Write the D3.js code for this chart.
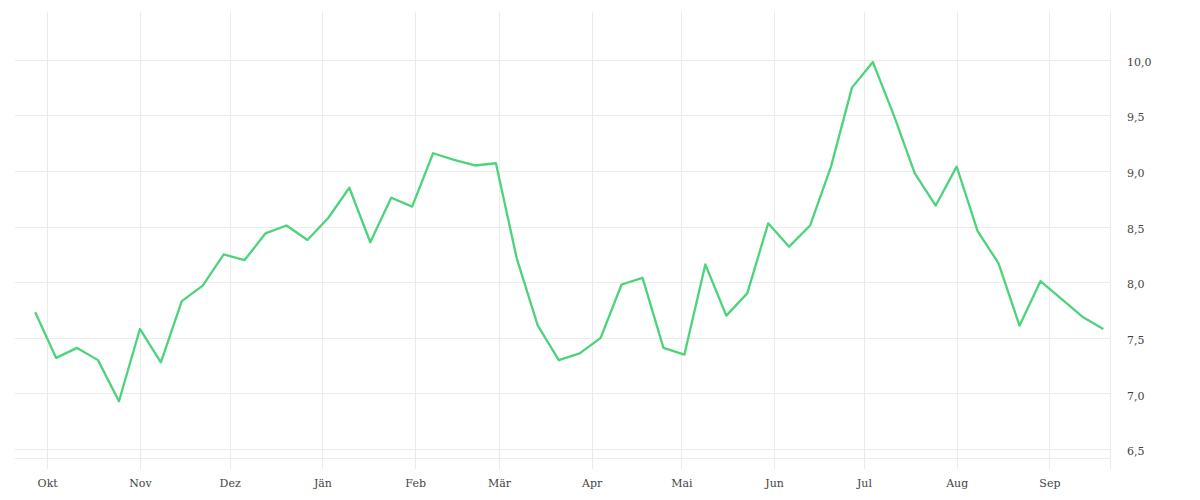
<!DOCTYPE html>
<html lang="de">
<head>
  <meta charset="utf-8">
  <title>Wochenwerte</title>
  <script src="https://d3js.org/d3.v7.min.js"></script>
  <style>
    body { margin: 0; background: #fff; }
    .grid line { stroke: #ebebeb; stroke-width: 1; shape-rendering: crispEdges; }
    .grid path { display: none; }
    .labels text { font: 11px "DejaVu Serif", serif; fill: #444; }
    .labels path, .labels line { display: none; }
  </style>
</head>
<body>
  <div id="chart"></div>

  <script>
    "use strict"
    // Wochenwerte, jeweils Donnerstag
    var wochen = [
      "2018-09-27","2018-10-04","2018-10-11","2018-10-18","2018-10-25",
      "2018-11-01","2018-11-08","2018-11-15","2018-11-22","2018-11-29",
      "2018-12-06","2018-12-13","2018-12-20","2018-12-27",
      "2019-01-03","2019-01-10","2019-01-17","2019-01-24","2019-01-31",
      "2019-02-07","2019-02-14","2019-02-21","2019-02-28",
      "2019-03-07","2019-03-14","2019-03-21","2019-03-28",
      "2019-04-04","2019-04-11","2019-04-18","2019-04-25",
      "2019-05-02","2019-05-09","2019-05-16","2019-05-23","2019-05-30",
      "2019-06-06","2019-06-13","2019-06-20","2019-06-27",
      "2019-07-04","2019-07-11","2019-07-18","2019-07-25",
      "2019-08-01","2019-08-08","2019-08-15","2019-08-22","2019-08-29",
      "2019-09-05","2019-09-12","2019-09-19"
    ];
    var werte = [
      7.73, 7.32, 7.41, 7.30, 6.93,
      7.58, 7.28, 7.83, 7.97, 8.25,
      8.20, 8.44, 8.51, 8.38,
      8.58, 8.85, 8.36, 8.76, 8.68,
      9.16, 9.10, 9.05, 9.07,
      8.21, 7.61, 7.30, 7.36,
      7.50, 7.98, 8.04, 7.41,
      7.35, 8.16, 7.70, 7.90, 8.53,
      8.32, 8.51, 9.04, 9.75,
      9.98, 9.50, 8.98, 8.69,
      9.04, 8.46, 8.17, 7.61, 8.01,
      7.85, 7.69, 7.58
    ];
    var monate = ["Jän","Feb","Mär","Apr","Mai","Jun","Jul","Aug","Sep","Okt","Nov","Dez"];
    var yTicks = [6.5, 7.0, 7.5, 8.0, 8.5, 9.0, 9.5, 10.0];

    var larguraSVG = 1200, alturaSVG = 500;
    var links = 15, rechts = 1110, oben = 12, unten = 458, tickUnten = 469;

    var parse = d3.timeParse("%Y-%m-%d");
    var dados = wochen.map((w, i) => ({datum: parse(w), wert: werte[i]}));

    var svg = d3.select("#chart").append("svg")
      .attr("width", larguraSVG)
      .attr("height", alturaSVG);

    var x = d3.scaleTime()
      .domain([new Date(2018, 8, 20, 6), new Date(2019, 8, 21, 6)])
      .range([links, rechts]);
    var y = d3.scaleLinear()
      .domain([6.42, 10.43])
      .range([unten, oben]);

    var de = d3.formatLocale({decimal: ",", thousands: ".", grouping: [3], currency: ["", " €"]});
    var fmt = de.format(".1f");

    // horizontale Gitterlinien
    svg.append("g")
      .attr("class", "grid")
      .attr("transform", "translate(" + rechts + ",0)")
      .call(d3.axisLeft(y).tickValues(yTicks.concat([y.domain()[0]])).tickSize(rechts - links).tickFormat(""));

    // vertikale Monatslinien + Beschriftung
    var xAxis = d3.axisBottom(x)
      .ticks(d3.timeMonth.every(1))
      .tickSize(-(tickUnten - oben))
      .tickSizeOuter(0)
      .tickPadding(10)
      .tickFormat(d => monate[d.getMonth()]);
    var gx = svg.append("g")
      .attr("class", "grid labels")
      .attr("transform", "translate(0," + tickUnten + ")")
      .call(xAxis);
    gx.selectAll("line").style("display", "inline");

    // rechte Begrenzung
    svg.append("line")
      .attr("x1", x.range()[1]).attr("x2", x.range()[1])
      .attr("y1", oben).attr("y2", tickUnten)
      .attr("stroke", "#ebebeb")
      .attr("shape-rendering", "crispEdges");

    // y-Beschriftung rechts
    svg.append("g")
      .attr("class", "labels")
      .attr("transform", "translate(" + rechts + ",2)")
      .call(d3.axisRight(y).tickValues(yTicks).tickSize(0).tickPadding(17).tickFormat(fmt));

    var linie = d3.line()
      .x(d => x(d.datum))
      .y(d => y(d.wert));

    svg.append("path")
      .datum(dados)
      .attr("d", linie)
      .attr("fill", "none")
      .attr("stroke", "#4cd37b")
      .attr("stroke-width", 2.3)
      .attr("stroke-linejoin", "round");
  </script>
</body>
</html>
